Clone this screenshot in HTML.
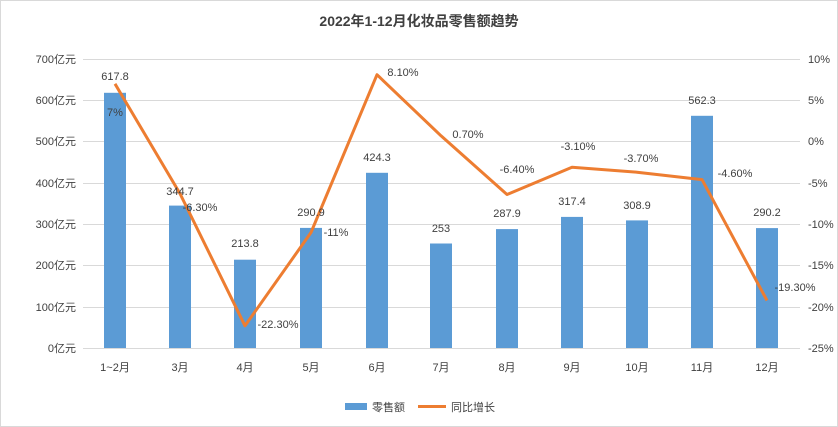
<!DOCTYPE html>
<html><head><meta charset="utf-8"><style>
body{margin:0;background:#fff}
svg{display:block}
text{font-family:"Liberation Sans","Noto Sans CJK SC",sans-serif;font-size:11px;fill:#404040}
</style></head><body>
<svg width="838" height="427" viewBox="0 0 838 427">
<rect x="0.5" y="0.5" width="837" height="426" fill="#fff" stroke="#d9d9d9"/>
<text x="419" y="26" text-anchor="middle" style="font-size:14px;font-weight:bold;fill:#404040">2022年1-12月化妆品零售额趋势</text>
<g stroke="#d9d9d9" stroke-width="1">
<line x1="83" x2="800" y1="59.5" y2="59.5"/><line x1="83" x2="800" y1="100.5" y2="100.5"/>
<line x1="83" x2="800" y1="141.5" y2="141.5"/><line x1="83" x2="800" y1="183.5" y2="183.5"/>
<line x1="83" x2="800" y1="224.5" y2="224.5"/><line x1="83" x2="800" y1="265.5" y2="265.5"/>
<line x1="83" x2="800" y1="307.5" y2="307.5"/><line x1="83" x2="800" y1="348.5" y2="348.5"/>
</g>
<g text-anchor="end">
<text x="76" y="63">700亿元</text><text x="76" y="104">600亿元</text><text x="76" y="145">500亿元</text>
<text x="76" y="187">400亿元</text><text x="76" y="228">300亿元</text><text x="76" y="269">200亿元</text>
<text x="76" y="311">100亿元</text><text x="76" y="352">0亿元</text>
</g>
<g>
<text x="808" y="63">10%</text><text x="808" y="104">5%</text><text x="808" y="145">0%</text>
<text x="808" y="187">-5%</text><text x="808" y="228">-10%</text><text x="808" y="269">-15%</text>
<text x="808" y="311">-20%</text><text x="808" y="352">-25%</text>
</g>
<g fill="#5B9BD5">
<rect x="104" y="92.8" width="22" height="255.2"/>
<rect x="169" y="205.6" width="22" height="142.4"/>
<rect x="234" y="259.7" width="22" height="88.3"/>
<rect x="300" y="227.9" width="22" height="120.1"/>
<rect x="366" y="172.8" width="22" height="175.2"/>
<rect x="430" y="243.5" width="22" height="104.5"/>
<rect x="496" y="229.1" width="22" height="118.9"/>
<rect x="561" y="216.9" width="22" height="131.1"/>
<rect x="626" y="220.4" width="22" height="127.6"/>
<rect x="691" y="115.8" width="22" height="232.2"/>
<rect x="756" y="228.1" width="22" height="119.9"/>
</g>
<polyline fill="none" stroke="#ED7D31" stroke-width="3" stroke-linejoin="round"
points="115,83.8 180,193.6 245,325.8 311,232.5 377,74.7 441,135.8 507,194.5 572,167.2 637,172.2 702,179.6 767,300.5"/>
<g text-anchor="middle">
<text x="115" y="371">1~2月</text><text x="180" y="371">3月</text><text x="245" y="371">4月</text>
<text x="311" y="371">5月</text><text x="377" y="371">6月</text><text x="441" y="371">7月</text>
<text x="507" y="371">8月</text><text x="572" y="371">9月</text><text x="637" y="371">10月</text>
<text x="702" y="371">11月</text><text x="767" y="371">12月</text>
<text x="115" y="80">617.8</text><text x="115" y="116">7%</text>
<text x="180" y="195">344.7</text><text x="200" y="211">-6.30%</text>
<text x="245" y="247">213.8</text><text x="278" y="328">-22.30%</text>
<text x="311" y="216">290.9</text><text x="336" y="236">-11%</text>
<text x="377" y="161">424.3</text><text x="403" y="76">8.10%</text>
<text x="441" y="232">253</text><text x="468" y="138">0.70%</text>
<text x="507" y="217">287.9</text><text x="517" y="173">-6.40%</text>
<text x="572" y="205">317.4</text><text x="578" y="150">-3.10%</text>
<text x="637" y="209">308.9</text><text x="641" y="162">-3.70%</text>
<text x="702" y="104">562.3</text><text x="735" y="177">-4.60%</text>
<text x="767" y="216">290.2</text><text x="795" y="291">-19.30%</text>
</g>
<rect x="345" y="403" width="22" height="7" fill="#5B9BD5"/>
<text x="372" y="411">零售额</text>
<line x1="418" x2="446" y1="406.5" y2="406.5" stroke="#ED7D31" stroke-width="3"/>
<text x="451" y="411">同比增长</text>
</svg>
</body></html>
